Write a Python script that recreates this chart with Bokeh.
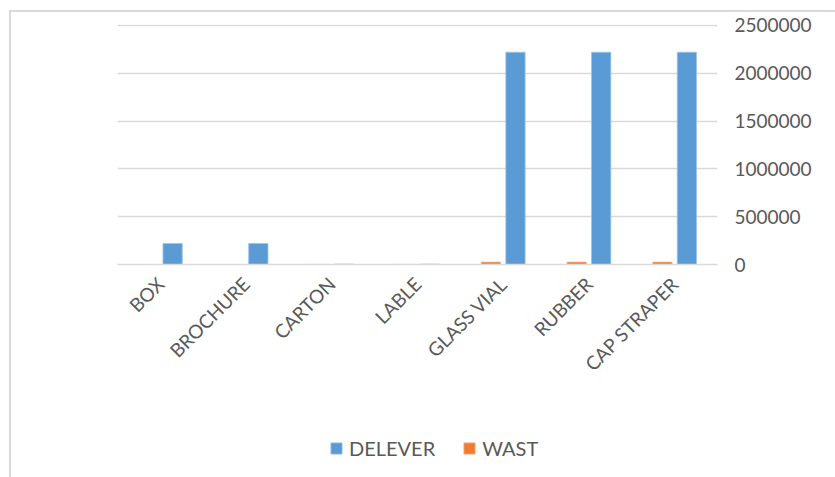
from bokeh.plotting import figure
from bokeh.layouts import column
from bokeh.models import ColumnDataSource, Range1d, FixedTicker, Legend, LegendItem, NumeralTickFormatter
from bokeh.transform import dodge
from bokeh.embed import file_html
from bokeh.resources import INLINE
import math

categories = ["BOX", "BROCHURE", "CARTON", "LABLE", "GLASS VIAL", "RUBBER", "CAP STRAPER"]
delever = [220000, 220000, 4000, 4000, 2220000, 2220000, 2220000]
wast = [0, 0, 1000, 1000, 25000, 25000, 25000]
y_ticks = [0, 500000, 1000000, 1500000, 2000000, 2500000]
series_names = ["DELEVER", "WAST"]

src = ColumnDataSource(dict(cat=categories, delever=delever, wast=wast))

FONT = "Lato"
TXT = "#595959"
GRID = "#d9d9d9"
BLUE, BLUE_EDGE = "#5b9bd5", "#9dc3e6"
ORANGE, ORANGE_EDGE = "#ed7d31", "#f4b183"

W = 824
p = figure(x_range=categories, y_range=Range1d(0, 2510000), width=W, height=410,
           output_backend="svg", toolbar_location=None, y_axis_location="right",
           min_border_left=106, min_border_right=118, min_border_top=12, min_border_bottom=158)
p.outline_line_color = None
p.background_fill_color = "white"
p.border_fill_color = "white"

r_w = p.vbar(x=dodge("cat", -0.143, range=p.x_range), top="wast", width=0.225, source=src,
             fill_color=ORANGE, line_color=ORANGE_EDGE, line_width=0.8)
r_d = p.vbar(x=dodge("cat", 0.143, range=p.x_range), top="delever", width=0.225, source=src,
             fill_color=BLUE, line_color=BLUE_EDGE, line_width=0.8)

p.xgrid.grid_line_color = None
p.ygrid.grid_line_color = GRID
p.ygrid.grid_line_width = 1.3
p.yaxis.ticker = FixedTicker(ticks=y_ticks)
p.yaxis.formatter = NumeralTickFormatter(format="0")
p.yaxis.axis_line_color = None
p.yaxis.major_tick_line_color = None
p.yaxis.minor_tick_line_color = None
p.yaxis.major_label_standoff = 11
p.yaxis.major_label_text_font = FONT
p.yaxis.major_label_text_font_size = "19px"
p.yaxis.major_label_text_color = TXT

p.xaxis.axis_line_color = GRID
p.xaxis.axis_line_width = 1.5
p.xaxis.major_tick_line_color = None
p.xaxis.minor_tick_line_color = None
p.xaxis.major_label_orientation = math.pi / 4
p.xaxis.major_label_standoff = 10
p.xaxis.major_label_text_font = FONT
p.xaxis.major_label_text_font_size = "19px"
p.xaxis.major_label_text_color = TXT

# legend strip below the chart; its proxy renderers hold no drawable point
pl = figure(width=W, height=55, output_backend="svg", toolbar_location=None,
            x_axis_location=None, y_axis_location=None,
            x_range=Range1d(0, 1), y_range=Range1d(0, 1),
            min_border_left=0, min_border_right=0, min_border_top=0, min_border_bottom=0)
pl.outline_line_color = None
pl.grid.visible = False
pl.border_fill_color = "white"
proxy = ColumnDataSource(dict(x=[float("nan")], top=[float("nan")]))
ld = pl.vbar(x="x", top="top", width=0.1, source=proxy,
             fill_color=BLUE, line_color=BLUE_EDGE, line_width=0.8)
lw = pl.vbar(x="x", top="top", width=0.1, source=proxy,
             fill_color=ORANGE, line_color=ORANGE_EDGE, line_width=0.8)
legend = Legend(items=[LegendItem(label=series_names[0], renderers=[ld]),
                       LegendItem(label=series_names[1], renderers=[lw])],
                orientation="horizontal", location=(212, 17),
                glyph_width=14, glyph_height=14, label_text_font=FONT,
                label_text_font_size="20px", label_text_color=TXT,
                border_line_color=None, background_fill_alpha=0,
                padding=0, margin=0, spacing=27, label_standoff=6)
pl.add_layout(legend, "center")

layout = column(p, pl, spacing=0)
layout.margin = (10, 0, 0, 9)
layout.styles = {"border-top": "2px solid #d9d9d9", "border-left": "2px solid #d9d9d9"}

open("out.html", "w").write(file_html(layout, INLINE))
